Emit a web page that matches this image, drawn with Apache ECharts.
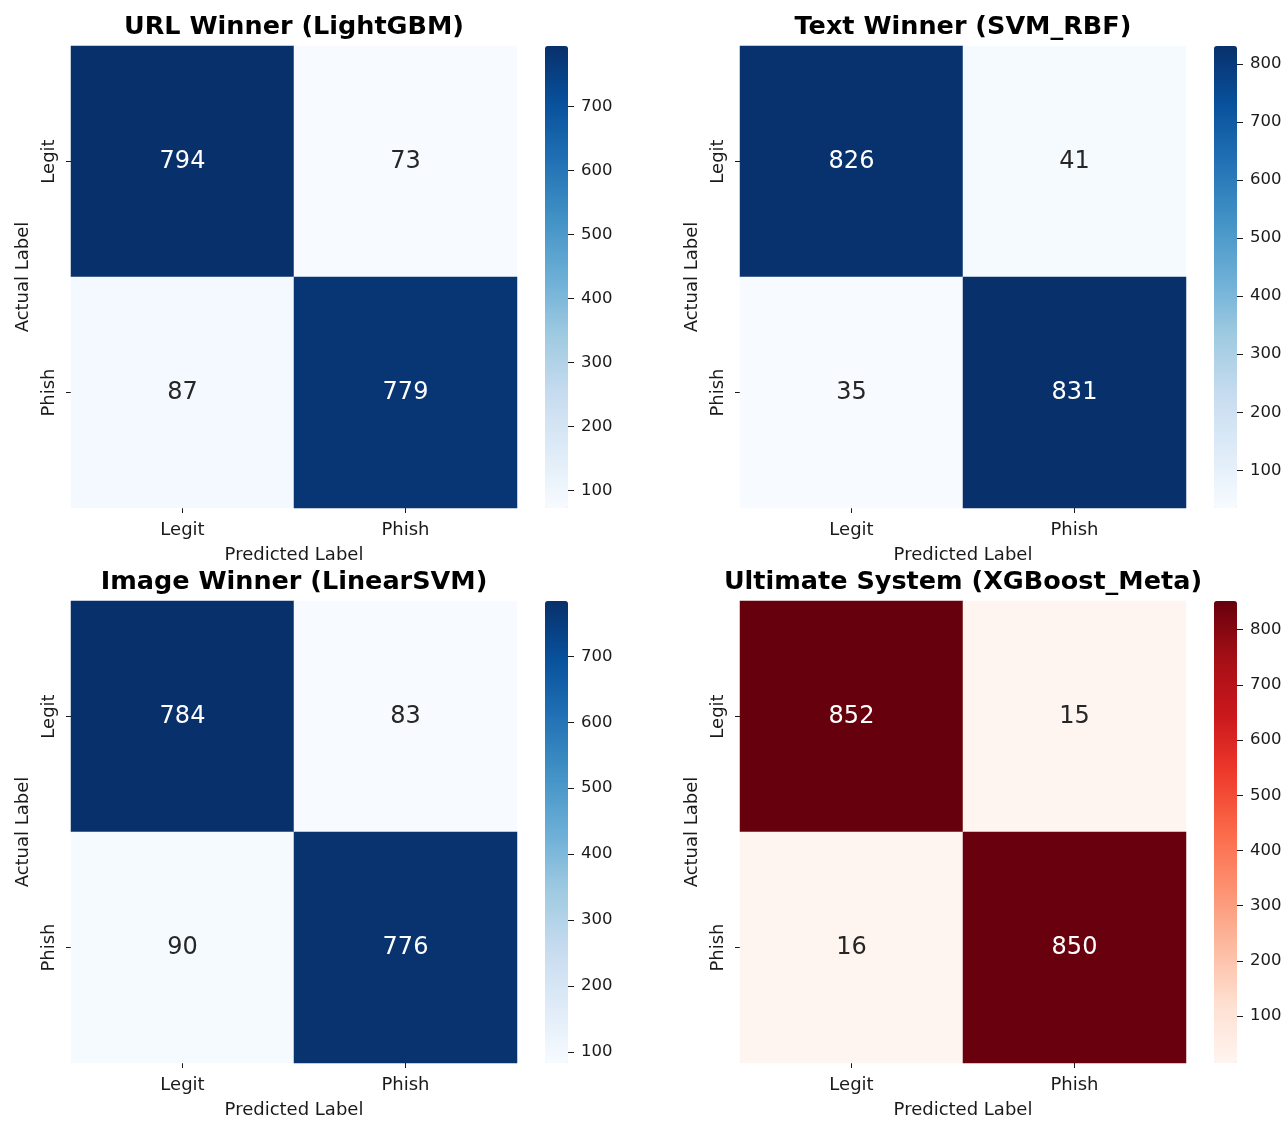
<!DOCTYPE html>
<html>
<head>
<meta charset="utf-8">
<title>Confusion matrices</title>
<script src="https://cdn.jsdelivr.net/npm/echarts@6/dist/echarts.min.js"></script>
<style>
  html, body { margin: 0; padding: 0; background: #ffffff; overflow: hidden; }
  #chart { width: 1287px; height: 1121px; }
</style>
</head>
<body>
<div id="chart"></div>
<script>
// Class labels (rows = actual, columns = predicted)
const classLabels = ['Legit', 'Phish'];

// Panel titles
const panelTitles = [
  'URL Winner (LightGBM)',
  'Text Winner (SVM_RBF)',
  'Image Winner (LinearSVM)',
  'Ultimate System (XGBoost_Meta)'
];

// Confusion matrices: [actual][predicted]
const urlMatrix = [[794, 73], [87, 779]];
const textMatrix = [[826, 41], [35, 831]];
const imageMatrix = [[784, 83], [90, 776]];
const metaMatrix = [[852, 15], [16, 850]];

// Colorbar tick values per panel
const urlTicks = [100, 200, 300, 400, 500, 600, 700];
const textTicks = [100, 200, 300, 400, 500, 600, 700, 800];
const imageTicks = [100, 200, 300, 400, 500, 600, 700];
const metaTicks = [100, 200, 300, 400, 500, 600, 700, 800];

// Sequential colour ramps
const bluesRamp = ['#f7fbff', '#deebf7', '#c6dbef', '#9ecae1', '#6baed6', '#4292c6', '#2171b5', '#08519c', '#08306b'];
const redsRamp = ['#fff5f0', '#fee0d2', '#fcbba1', '#fc9272', '#fb6a4a', '#ef3b2c', '#cb181d', '#a50f15', '#67000d'];

const matrices = [urlMatrix, textMatrix, imageMatrix, metaMatrix];
const tickSets = [urlTicks, textTicks, imageTicks, metaTicks];
const ramps = [bluesRamp, bluesRamp, bluesRamp, redsRamp];

const FONT = 'DejaVu Sans';
const INK = '#1a1a1a';
const LABEL_SIZE = 18;

// Layout of each panel: heatmap box and colorbar box
const layout = [
  { left: 71,  top: 46 },
  { left: 740, top: 46 },
  { left: 71,  top: 601 },
  { left: 740, top: 601 }
];
const HM_W = 446, HM_H = 462;
const CB_OFFSET = 474, CB_W = 23;

const option = {
  backgroundColor: '#ffffff',
  animation: false,
  title: [],
  grid: [],
  xAxis: [],
  yAxis: [],
  visualMap: [],
  series: []
};

matrices.forEach((m, p) => {
  const L = layout[p];
  const flat = m.flat();
  const vmin = Math.min.apply(null, flat);
  const vmax = Math.max.apply(null, flat);

  option.title.push({
    text: panelTitles[p],
    left: L.left + HM_W / 2,
    top: L.top - 32,
    textAlign: 'center',
    padding: 0,
    textStyle: { fontFamily: FONT, fontWeight: 'bold', fontSize: 25.5, lineHeight: 26, color: '#000' }
  });

  // heatmap grid
  option.grid.push({ left: L.left, top: L.top, width: HM_W, height: HM_H, outerBoundsMode: 'none' });
  // colorbar axis grid
  option.grid.push({ left: L.left + CB_OFFSET, top: L.top, width: CB_W, height: HM_H, outerBoundsMode: 'none' });

  const gHm = p * 2, gCb = p * 2 + 1;

  option.xAxis.push({
    type: 'category', gridIndex: gHm, data: classLabels, position: 'bottom',
    axisLine: { show: false },
    axisTick: { show: true, alignWithLabel: true, length: 5, lineStyle: { color: INK, width: 1 } },
    axisLabel: { fontFamily: FONT, fontSize: LABEL_SIZE, color: INK, margin: 13 },
    splitLine: { show: false }, splitArea: { show: false },
    name: 'Predicted Label', nameLocation: 'middle', nameGap: 38,
    nameTextStyle: { fontFamily: FONT, fontSize: LABEL_SIZE, color: INK }
  });
  option.yAxis.push({
    type: 'category', gridIndex: gHm, data: classLabels, inverse: true,
    axisLine: { show: false },
    axisTick: { show: true, alignWithLabel: true, length: 5, lineStyle: { color: INK, width: 1 } },
    axisLabel: { fontFamily: FONT, fontSize: LABEL_SIZE, color: INK, rotate: 90, margin: 13 },
    splitLine: { show: false }, splitArea: { show: false },
    name: 'Actual Label', nameLocation: 'middle', nameGap: 39, nameRotate: 90,
    nameTextStyle: { fontFamily: FONT, fontSize: LABEL_SIZE, color: INK }
  });

  // colorbar scale (placed on the right edge of the bar)
  option.xAxis.push({ type: 'value', gridIndex: gCb, show: false, min: 1, max: 2 });
  option.yAxis.push({
    type: 'value', gridIndex: gCb, position: 'right', min: vmin, max: vmax,
    axisLine: { show: false, onZero: false },
    axisTick: { show: true, length: 6, customValues: tickSets[p], lineStyle: { color: INK, width: 1 } },
    axisLabel: { fontFamily: FONT, fontSize: 16.5, color: INK, margin: 13, customValues: tickSets[p] },
    splitLine: { show: false }
  });

  option.visualMap.push({
    type: 'continuous', seriesIndex: p, min: vmin, max: vmax,
    calculable: false, hoverLink: false, realtime: false,
    orient: 'vertical', left: L.left + CB_OFFSET, top: L.top,
    itemWidth: CB_W, itemHeight: HM_H, padding: 0,
    inRange: { color: ramps[p] },
    textStyle: { color: 'transparent' }
  });

  const data = [];
  m.forEach((row, r) => {
    row.forEach((v, c) => {
      const t = (v - vmin) / (vmax - vmin);
      data.push({
        value: [c, r, v],
        label: { color: t > 0.5 ? '#ffffff' : '#262626' }
      });
    });
  });

  option.series.push({
    type: 'heatmap', xAxisIndex: gHm, yAxisIndex: gHm, data: data,
    label: { show: true, fontFamily: FONT, fontSize: 24, formatter: (d) => String(d.value[2]) },
    itemStyle: { borderWidth: 0 },
    emphasis: { disabled: true }
  });
});

const chart = echarts.init(document.getElementById('chart'), null, { renderer: 'canvas' });
chart.setOption(option);
</script>
</body>
</html>
